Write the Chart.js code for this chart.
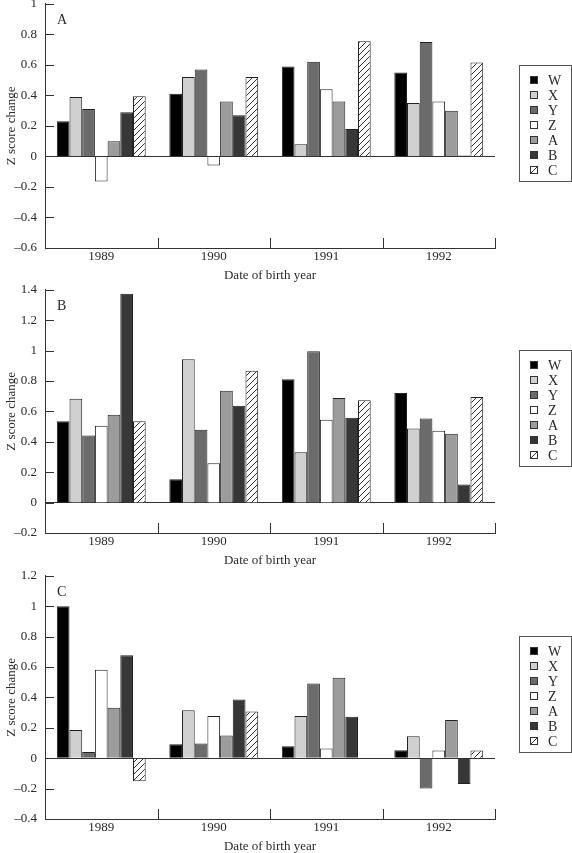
<!DOCTYPE html>
<html><head><meta charset="utf-8">
<script src="https://cdn.jsdelivr.net/npm/chart.js@4"></script>
<style>
html,body{margin:0;padding:0;background:#fff;width:572px;height:853px;overflow:hidden;position:relative}
canvas{position:absolute;left:0}
</style></head><body>
<canvas id="ca" width="572" height="299" style="top:-12px"></canvas>
<canvas id="cb" width="572" height="298" style="top:274px"></canvas>
<canvas id="cc" width="572" height="298" style="top:560px"></canvas>
<script>
const categories = ['1989','1990','1991','1992'];
const seriesNames = ['W','X','Y','Z','A','B','C'];

// Panel A
const A_W = [0.23, 0.41, 0.59, 0.55];
const A_X = [0.39, 0.52, 0.08, 0.35];
const A_Y = [0.31, 0.57, 0.62, 0.75];
const A_Z = [-0.165, -0.06, 0.44, 0.36];
const A_A = [0.10, 0.36, 0.36, 0.30];
const A_B = [0.29, 0.27, 0.18, 0.006];
const A_C = [0.395, 0.52, 0.755, 0.615];
const A_yRange = [-0.6, 1];

// Panel B
const B_W = [0.536, 0.154, 0.811, 0.721];
const B_X = [0.684, 0.943, 0.332, 0.488];
const B_Y = [0.442, 0.479, 0.996, 0.554];
const B_Z = [0.505, 0.259, 0.545, 0.473];
const B_A = [0.578, 0.736, 0.688, 0.453];
const B_B = [1.374, 0.637, 0.558, 0.119];
const B_C = [0.536, 0.868, 0.673, 0.695];
const B_yRange = [-0.2, 1.4];

// Panel C
const C_W = [1.0, 0.092, 0.079, 0.053];
const C_X = [0.185, 0.316, 0.277, 0.145];
const C_Y = [0.04, 0.097, 0.492, -0.2];
const C_Z = [0.582, 0.277, 0.064, 0.051];
const C_A = [0.332, 0.149, 0.530, 0.251];
const C_B = [0.677, 0.387, 0.273, -0.169];
const C_C = [-0.152, 0.308, null, 0.051];
const C_yRange = [-0.4, 1.2];

const yStep = 0.2;
const FONT = "'Liberation Serif', 'DejaVu Serif', serif";
const INK = '#2a2a2a';

function makeHatch() {
  const c = document.createElement('canvas');
  c.width = 6; c.height = 6;
  const g = c.getContext('2d');
  g.fillStyle = '#fff'; g.fillRect(0,0,6,6);
  g.strokeStyle = '#333'; g.lineWidth = 1;
  g.beginPath();
  g.moveTo(-1,7); g.lineTo(7,-1);
  g.moveTo(-1,1); g.lineTo(1,-1);
  g.moveTo(5,7); g.lineTo(7,5);
  g.stroke();
  return g.createPattern(c, 'repeat');
}
const hatch = makeHatch();
const fills = ['#000000','#d0d0d0','#6b6b6b','#ffffff','#9c9c9c','#373737', hatch];

const decor = {
  id: 'decor',
  afterDraw(chart, args, opts) {
    const ctx = chart.ctx;
    const ys = chart.scales.y, xs = chart.scales.x, ca = chart.chartArea;
    ctx.save();
    ctx.strokeStyle = '#333'; ctx.lineWidth = 1;
    ctx.beginPath();
    ys.ticks.forEach(t => {
      const py = Math.round(ys.getPixelForValue(t.value)) + 0.5;
      ctx.moveTo(ca.left, py); ctx.lineTo(ca.left + 9, py);
    });
    for (let i = 0; i <= categories.length; i++) {
      const px = Math.round(xs.getPixelForValue(i - 0.5)) + 0.5;
      ctx.moveTo(px, ca.bottom); ctx.lineTo(px, ca.bottom - 10);
    }
    ctx.stroke();
    // panel letter
    ctx.fillStyle = INK;
    ctx.font = '14px ' + FONT;
    ctx.textBaseline = 'middle';
    ctx.textAlign = 'left';
    ctx.fillText(opts.letter, ca.left + 12, ca.top + 17);
    // legend
    const bx = ca.right + 24, bw = 52, bh = 116;
    const by = Math.round((ca.top + ca.bottom) / 2 - bh / 2 - 3);
    ctx.strokeStyle = '#555';
    ctx.strokeRect(bx + 0.5, by + 0.5, bw, bh);
    ctx.font = '14px ' + FONT;
    chart.data.datasets.forEach((ds, i) => {
      const cy = by + 15 + i * 15;
      const sx = bx + 11, sy = cy - 4;
      ctx.fillStyle = i === 6 ? '#fff' : ds.backgroundColor;
      ctx.fillRect(sx, sy, 8, 8);
      ctx.strokeStyle = '#333';
      ctx.strokeRect(sx + 0.5, sy + 0.5, 7, 7);
      if (i === 6) {
        ctx.beginPath(); ctx.moveTo(sx + 1, sy + 7); ctx.lineTo(sx + 7, sy + 1); ctx.stroke();
      }
      ctx.fillStyle = INK;
      ctx.fillText(ds.label, bx + 29, cy + 1);
    });
    ctx.restore();
  }
};

function fmt(v) {
  const s = String(Math.round(v * 10) / 10);
  return s.replace('-', '\u2013');
}

function makePanel(id, letter, series, range) {
  new Chart(document.getElementById(id), {
    type: 'bar',
    data: {
      labels: categories,
      datasets: series.map((vals, i) => ({
        label: seriesNames[i],
        data: vals,
        backgroundColor: fills[i],
        borderColor: '#222',
        borderWidth: 1,
        categoryPercentage: 0.79,
        barPercentage: 1.0
      }))
    },
    options: {
      responsive: false,
      animation: false,
      layout: { padding: { top: 10, right: 77, bottom: 0, left: 0 } },
      plugins: { legend: { display: false }, tooltip: { enabled: false }, decor: { letter } },
      scales: {
        x: {
          offset: true,
          grid: { display: false, drawTicks: false },
          border: { display: true, color: '#333', width: 1 },
          ticks: { color: INK, font: { family: FONT, size: 13 }, padding: 1, maxRotation: 0 },
          title: { display: true, text: 'Date of birth year', color: INK, font: { family: FONT, size: 13 } },
          afterFit: s => { s.height = 39; }
        },
        y: {
          min: range[0], max: range[1],
          ticks: { stepSize: yStep, color: INK, font: { family: FONT, size: 13 }, padding: 8, callback: v => fmt(v) },
          grid: { drawTicks: false, color: c => (c.tick && Math.abs(c.tick.value) < 1e-9) ? '#333' : 'rgba(0,0,0,0)' },
          border: { display: true, color: '#333', width: 1 },
          title: { display: true, text: 'Z score change', color: INK, font: { family: FONT, size: 13 } },
          afterFit: s => { s.width = 45; }
        }
      }
    },
    plugins: [decor]
  });
}

makePanel('ca', 'A', [A_W, A_X, A_Y, A_Z, A_A, A_B, A_C], A_yRange);
makePanel('cb', 'B', [B_W, B_X, B_Y, B_Z, B_A, B_B, B_C], B_yRange);
makePanel('cc', 'C', [C_W, C_X, C_Y, C_Z, C_A, C_B, C_C], C_yRange);
</script>
</body></html>
